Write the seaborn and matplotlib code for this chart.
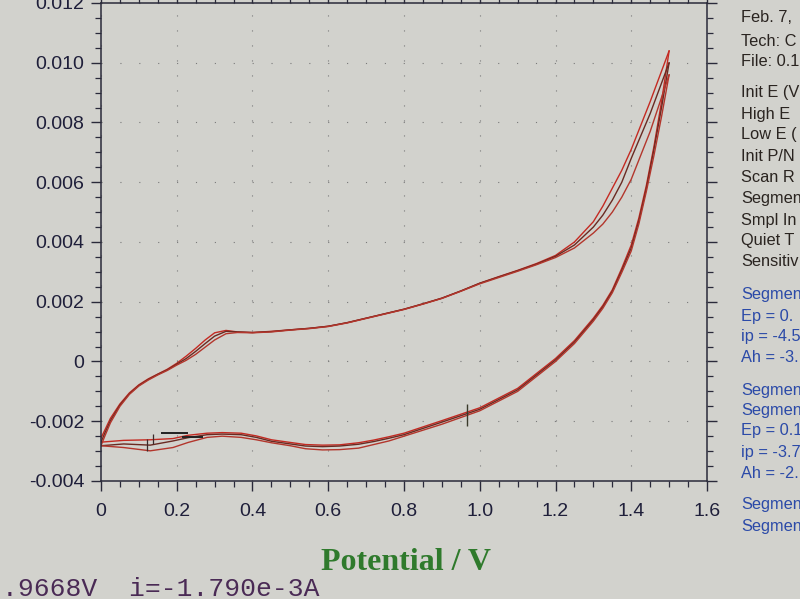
import numpy as np
import pandas as pd
import matplotlib
matplotlib.use('Agg')
import matplotlib.pyplot as plt
import seaborn as sns
from matplotlib.ticker import MultipleLocator

# Potential grids (V) for the anodic and cathodic sweeps
fwd_e = [0, 0.01, 0.025, 0.05, 0.075, 0.1, 0.125, 0.15, 0.175, 0.2,
         0.225, 0.25, 0.275, 0.3, 0.33, 0.36, 0.4, 0.45, 0.5, 0.55,
         0.6, 0.65, 0.7, 0.75, 0.8, 0.85, 0.9, 0.95, 1.0, 1.05,
         1.1, 1.15, 1.2, 1.25, 1.3, 1.325, 1.35, 1.375, 1.4, 1.45, 1.5]
rev_e = [1.5, 1.48, 1.46, 1.44, 1.42, 1.4, 1.375, 1.35, 1.325, 1.3, 1.25, 1.2,
         1.1, 1.0, 0.9, 0.8, 0.76, 0.72, 0.68, 0.63, 0.585, 0.54, 0.5, 0.45,
         0.41, 0.37, 0.32, 0.28, 0.23, 0.19, 0.13, 0.06, 0]

# Current (A), three cycles
fwd_i_1 = [-0.00256, -0.0023, -0.0019, -0.00142, -0.00105, -0.00078, -0.00058, -0.00042, -0.00026, -0.00006,
           0.00018, 0.00044, 0.00072, 0.00096, 0.00104, 0.00099, 0.00097, 0.00101, 0.00106, 0.00111,
           0.00118, 0.0013, 0.00145, 0.0016, 0.00175, 0.00193, 0.00212, 0.00236, 0.00262, 0.00284,
           0.00305, 0.00328, 0.00355, 0.0040, 0.00468, 0.0052, 0.0058, 0.0064, 0.0071, 0.0087, 0.0104]
fwd_i_2 = [-0.0027, -0.0024, -0.00198, -0.00146, -0.00108, -0.0008, -0.0006, -0.00043, -0.00028, -0.00009,
           0.0001, 0.00034, 0.0006, 0.00085, 0.00101, 0.00099, 0.00097, 0.001, 0.00106, 0.00111,
           0.00118, 0.0013, 0.00145, 0.0016, 0.00175, 0.00193, 0.00212, 0.00236, 0.00262, 0.00283,
           0.00304, 0.00326, 0.00352, 0.0039, 0.0045, 0.0049, 0.0054, 0.006, 0.0068, 0.0083, 0.0100]
fwd_i_3 = [-0.00282, -0.0025, -0.00205, -0.0015, -0.0011, -0.00082, -0.00062, -0.00045, -0.0003, -0.00012,
           0.00004, 0.00024, 0.00048, 0.00072, 0.00093, 0.00097, 0.00096, 0.00099, 0.00105, 0.0011,
           0.00117, 0.00129, 0.00144, 0.00159, 0.00174, 0.00192, 0.00211, 0.00235, 0.0026, 0.00281,
           0.00302, 0.00324, 0.00348, 0.0038, 0.0043, 0.0046, 0.0050, 0.0055, 0.0061, 0.0077, 0.0096]

rev_i_1 = [0.0104, 0.0087, 0.0072, 0.0059, 0.0048, 0.0039, 0.00312, 0.0024, 0.00188, 0.00145,
           0.0007, 0.0001, -0.0009, -0.00155, -0.00198, -0.0024, -0.00252, -0.00263, -0.00272, -0.00279,
           -0.0028, -0.00278, -0.00271, -0.00262, -0.00249, -0.0024, -0.00238, -0.0024, -0.00247, -0.00258,
           -0.00262, -0.00264, -0.0027]
rev_i_2 = [0.0100, 0.0085, 0.0071, 0.0058, 0.0047, 0.0038, 0.00305, 0.00235, 0.00183, 0.0014,
           0.00065, 0.00005, -0.00095, -0.0016, -0.00203, -0.00245, -0.00257, -0.00268, -0.00277, -0.00283,
           -0.00285, -0.00283, -0.00276, -0.00267, -0.00254, -0.00245, -0.00243, -0.00245, -0.00255, -0.00266,
           -0.0028, -0.00276, -0.00282]
rev_i_3 = [0.0096, 0.0082, 0.0069, 0.0057, 0.0046, 0.0037, 0.00298, 0.0023, 0.00178, 0.00135,
           0.0006, 0.0, -0.001, -0.00165, -0.0021, -0.0025, -0.00266, -0.00278, -0.0029, -0.00295,
           -0.00296, -0.00292, -0.00282, -0.00272, -0.00262, -0.00254, -0.0025, -0.00254, -0.00271, -0.00288,
           -0.00299, -0.00288, -0.00282]

# peak markers and baselines drawn by the software
peak_e = [0.121, 0.137]
peak_lo = [-0.0030, -0.00277]
peak_hi = [-0.0026, -0.00243]
base_e0 = [0.158, 0.215]
base_e1 = [0.229, 0.27]
base_i = [-0.0024, -0.00252]

# cursor
cursor_e = 0.9668
cursor_i = -1.790e-3

xtick_vals = [0, 0.2, 0.4, 0.6, 0.8, 1.0, 1.2, 1.4, 1.6]
xtick_labels = ["0", "0.2", "0.4", "0.6", "0.8", "1.0", "1.2", "1.4", "1.6"]
ytick_vals = [-0.004, -0.002, 0, 0.002, 0.004, 0.006, 0.008, 0.010, 0.012]
ytick_labels = ["-0.004", "-0.002", "0", "0.002", "0.004", "0.006", "0.008", "0.010", "0.012"]

# side panel (cut off at the right edge of the photo)
info_black = ["Feb. 7,", "Tech: C", "File: 0.1", "", "Init E (V", "High E",
              "Low E (", "Init P/N", "Scan R", "Segmen", "Smpl In",
              "Quiet T", "Sensitiv"]
info_blue = ["Segmen", "Ep = 0.", "ip = -4.5", "Ah = -3.", "", "Segmen", "Segmen",
             "Ep = 0.1", "ip = -3.7", "Ah = -2.", "", "Segmen", "Segmen"]

bg = "#d2d2cd"
sns.set_style("ticks", {"axes.facecolor": bg, "figure.facecolor": bg})
plt.rcParams['font.family'] = ['Liberation Sans', 'DejaVu Sans']

fig = plt.figure(figsize=(8, 5.99), dpi=100)
ax = fig.add_axes([0.12625, 0.197, 0.7575, 0.798])

rows = []
cycles = [(fwd_i_1, rev_i_1), (fwd_i_2, rev_i_2), (fwd_i_3, rev_i_3)]
for c, (fi, ri) in enumerate(cycles):
    for e, i in zip(fwd_e, fi):
        rows.append({"E": e, "I": i, "cycle": c, "branch": "fwd"})
    for e, i in zip(rev_e, ri):
        rows.append({"E": e, "I": i, "cycle": c, "branch": "rev"})
df = pd.DataFrame(rows)

colors = ["#c42a22", "#6a2a22", "#b3362c"]
for c in range(3):
    for br in ["fwd", "rev"]:
        sub = df[(df.cycle == c) & (df.branch == br)]
        sns.lineplot(data=sub, x="E", y="I", sort=False, estimator=None,
                     color=colors[c], linewidth=1.0, ax=ax)

# peak markers
ax.vlines(peak_e, peak_lo, peak_hi, color="#3a2a2a", linewidth=0.9)
ax.hlines(base_i, base_e0, base_e1, color="#222222", linewidth=1.4)
ax.plot(cursor_e, cursor_i, marker="|", markersize=16, color="#3a3a2a", mew=1.0)

ax.set_xlim(0, 1.6)
ax.set_ylim(-0.004, 0.012)
ax.set_xticks(xtick_vals)
ax.set_xticklabels(xtick_labels)
ax.set_yticks(ytick_vals)
ax.set_yticklabels(ytick_labels)
ax.xaxis.set_minor_locator(MultipleLocator(0.05))
ax.yaxis.set_minor_locator(MultipleLocator(0.0005))
ax.tick_params(which="both", direction="out", top=True, right=True,
               labeltop=False, labelright=False, color="#2a2a3a")
ax.tick_params(which="major", length=7, width=1.0, labelsize=14,
               labelcolor="#1f1f3a")
ax.tick_params(axis="y", which="major", pad=5)
ax.tick_params(axis="x", which="major", pad=9)
ax.tick_params(which="minor", length=4, width=0.9)
for s in ax.spines.values():
    s.set_color("#2a2a3a")
    s.set_linewidth(1.1)

ax.grid(axis="x", which="major", color="#7a7a7a", linestyle=(0, (1, 12.5)), linewidth=0.8)
ax.grid(axis="y", which="major", color="#7a7a7a", linestyle=(0, (1, 16)), linewidth=0.8)
ax.set_axisbelow(True)
ax.set_xlabel("")
ax.set_ylabel("")

fig.text(0.507, 1 - 570 / 599, "Potential / V", ha="center", va="baseline",
         fontsize=23, fontweight="bold", color="#2f7a2c",
         family=["Liberation Serif", "DejaVu Serif"])

fig.text(0.003, 3 / 599, ".9668V  i=-1.790e-3A", ha="left", va="baseline",
         fontsize=19, color="#4a2a55", family=["Liberation Mono", "DejaVu Sans Mono"])

ys = [18, 41, 62, 77, 92, 114, 135, 156, 178, 199, 220, 241, 262]
for t, y in zip(info_black, ys):
    if t:
        fig.text(741 / 800, 1 - y / 599, t, ha="left", va="center", fontsize=11.8,
                 color="#2a2420")
ys_b = [295, 316, 337, 357, 373, 390, 410, 431, 452, 473, 489, 505, 526]
for t, y in zip(info_blue, ys_b):
    if t:
        fig.text(741 / 800, 1 - y / 599, t, ha="left", va="center", fontsize=11.8,
                 color="#2b4aa8")

fig.savefig("out.png", dpi=100, facecolor=bg)
